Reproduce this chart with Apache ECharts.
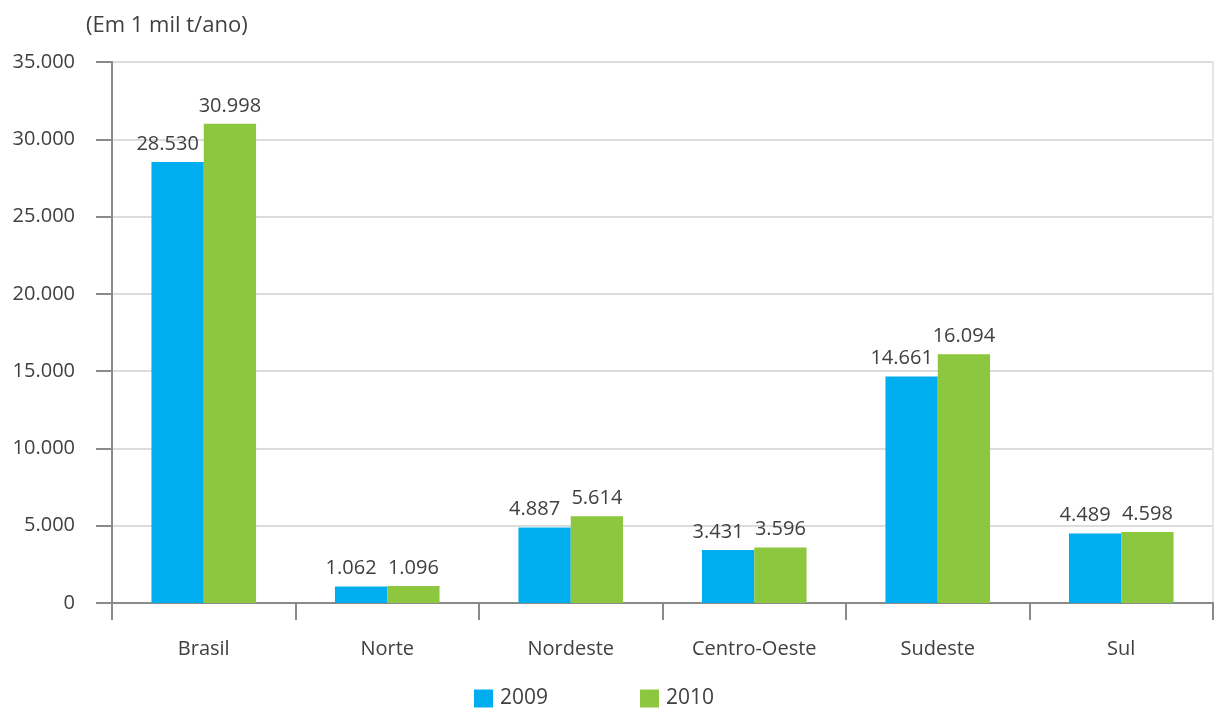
<!DOCTYPE html>
<html><head><meta charset="utf-8">
<script src="https://cdn.jsdelivr.net/npm/echarts@6/dist/echarts.min.js"></script>
<style>html,body{margin:0;padding:0;background:#fff}#c{width:1216px;height:708px}</style>
</head><body><div id="c"></div>
<script>
const categories = ['Brasil','Norte','Nordeste','Centro-Oeste','Sudeste','Sul'];
const values2009 = [28530, 1062, 4887, 3431, 14661, 4489];
const values2010 = [30998, 1096, 5614, 3596, 16094, 4598];
const seriesNames = ['2009','2010'];
const unitLabel = '(Em 1 mil t/ano)';

const fmt = v => v.toLocaleString('de-DE');
const font = '"Open Sans", "Noto Sans", sans-serif';
const txt = '#404040';
const chart = echarts.init(document.getElementById('c'));
chart.setOption({
  animation:false,
  textStyle:{fontFamily:font},
  title:{text:unitLabel,left:81,top:10,textStyle:{fontFamily:font,fontSize:22,fontWeight:'normal',color:txt}},
  legend:{left:469,top:683,itemWidth:19,itemHeight:18,itemGap:92,icon:'rect',
    textStyle:{fontFamily:font,fontSize:21,color:txt,padding:[0,0,0,2]},data:seriesNames},
  grid:{left:112,right:3,top:62,bottom:105,containLabel:false},
  xAxis:{type:'category',data:categories,
    axisLine:{lineStyle:{color:'#8a8a8a',width:2}},
    axisTick:{show:true,length:17,lineStyle:{color:'#8a8a8a',width:2}},
    axisLabel:{margin:36,fontSize:20,color:txt,fontFamily:font}},
  yAxis:[{type:'value',min:0,max:35000,interval:5000,
    axisLine:{show:true,lineStyle:{color:'#8a8a8a',width:2}},
    axisTick:{show:true,length:16,lineStyle:{color:'#8a8a8a',width:2}},
    splitLine:{lineStyle:{color:'#dcdcdc',width:2}},
    axisLabel:{margin:37,fontSize:20,color:txt,fontFamily:font,formatter:v=>fmt(v)}},
    {type:'value',min:0,max:35000,interval:5000,position:'right',
    axisLine:{show:true,lineStyle:{color:'#e6e6e6',width:2}},
    axisTick:{show:false},axisLabel:{show:false},splitLine:{show:false}}],
  series:[
    {name:seriesNames[0],type:'bar',data:values2009,barGap:'0%',barCategoryGap:'43%',
      itemStyle:{color:'#00AEEF'},
      label:{show:true,position:'top',offset:[-10,0],distance:8,fontSize:20,color:txt,fontFamily:font,formatter:p=>fmt(p.value)}},
    {name:seriesNames[1],type:'bar',data:values2010,barGap:'0%',barCategoryGap:'43%',
      itemStyle:{color:'#8DC63F'},
      label:{show:true,position:'top',offset:[0,0],distance:8,fontSize:20,color:txt,fontFamily:font,formatter:p=>fmt(p.value)}}
  ]
});
</script></body></html>
